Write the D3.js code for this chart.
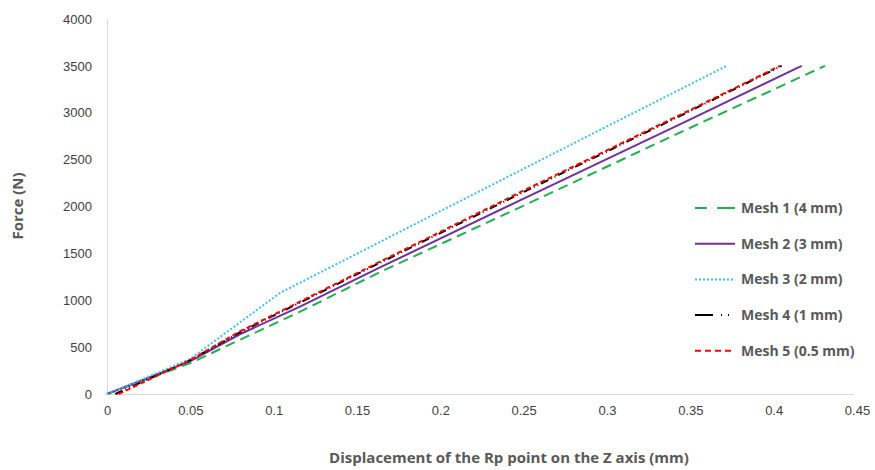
<!DOCTYPE html>
<html>
<head>
<meta charset="utf-8">
<script src="https://cdn.jsdelivr.net/npm/d3@7"></script>
<style>
  body { margin: 0; background: #fff; }
  .tick text { font-family: "Liberation Sans", Arial, sans-serif; font-size: 13px; fill: #404040; }
  .title { font-family: "Open Sans", sans-serif; font-weight: bold; font-size: 15px; fill: #595959; }
  .legend text { font-family: "Open Sans", sans-serif; font-weight: bold; font-size: 14px; fill: #595959; }
</style>
</head>
<body>
<div id="chart"></div>
<script>
// displacement (mm) / force (N)
const mesh1X = [0, 0.02, 0.05, 0.08, 0.1158, 0.1638, 0.25, 0.35, 0.4308];
const mesh1F = [0, 132, 330, 580, 878, 1300, 2010, 2840, 3500];
const mesh2X = [0, 0.02, 0.05, 0.08, 0.1158, 0.1638, 0.25, 0.35, 0.4168];
const mesh2F = [0, 140, 350, 640, 931, 1350, 2085, 2930, 3500];
const mesh3X = [0, 0.02, 0.05, 0.104, 0.2, 0.3, 0.3718];
const mesh3F = [0, 148, 375, 1080, 1950, 2855, 3500];
const mesh4X = [0.005, 0.02, 0.05, 0.08, 0.1158, 0.1638, 0.25, 0.35, 0.4048];
const mesh4F = [0, 120, 360, 660, 975, 1400, 2155, 3020, 3500];
const mesh5X = [0.007, 0.02, 0.05, 0.08, 0.1158, 0.1638, 0.25, 0.35, 0.4038];
const mesh5F = [0, 110, 362, 670, 985, 1411, 2170, 3030, 3500];

const seriesNames = ["Mesh 1 (4 mm)", "Mesh 2 (3 mm)", "Mesh 3 (2 mm)", "Mesh 4 (1 mm)", "Mesh 5 (0.5 mm)"];
const xTicks = [0, 0.05, 0.1, 0.15, 0.2, 0.25, 0.3, 0.35, 0.4, 0.45];
const yTicks = [0, 500, 1000, 1500, 2000, 2500, 3000, 3500, 4000];

const styles = [
  { color: "#21b04f", dash: "10,6" },
  { color: "#7030a0", dash: null },
  { color: "#3fc0f0", dash: "2,2" },
  { color: "#000000", dash: "8,3,1,3,1,3" },
  { color: "#ff0000", dash: "5,3" }
];

const series = [
  [mesh1X, mesh1F], [mesh2X, mesh2F], [mesh3X, mesh3F], [mesh4X, mesh4F], [mesh5X, mesh5F]
].map(([xs, fs], i) => ({ name: seriesNames[i], values: xs.map((x, j) => ({ x: x, y: fs[j] })) }));

const margin = { top: 19, right: 18, bottom: 76, left: 107 };
const totalWidth = 875, totalHeight = 470;
const width = totalWidth - margin.left - margin.right;
const height = totalHeight - margin.top - margin.bottom;

const svg = d3.select("#chart").append("svg")
    .attr("width", totalWidth)
    .attr("height", totalHeight);

const g = svg.append("g")
    .attr("transform", "translate(" + margin.left + "," + margin.top + ")");

const x = d3.scaleLinear().domain([0, 0.45]).range([0, 750]);
const y = d3.scaleLinear().domain([0, 4000]).range([height, 0]);

// axes
const xAxis = g.append("g")
    .attr("transform", "translate(0," + height + ")")
    .call(d3.axisBottom(x).tickValues(xTicks).tickSize(0).tickPadding(12).tickFormat(d => String(d)));
xAxis.select(".domain").attr("stroke", "#d9d9d9").attr("d", "M0,0.5H" + (width - 3));

const yAxis = g.append("g")
    .call(d3.axisLeft(y).tickValues(yTicks).tickSize(0).tickPadding(15).tickFormat(d => String(d)));
yAxis.select(".domain").attr("stroke", "#d9d9d9").attr("d", "M0.5," + height + "V0");

// lines
const line = d3.line().x(d => x(d.x)).y(d => y(d.y));

series.forEach((s, i) => {
  g.append("path")
      .datum(s.values)
      .attr("fill", "none")
      .attr("stroke", styles[i].color)
      .attr("stroke-width", 2)
      .attr("stroke-dasharray", styles[i].dash)
      .attr("d", line);
});

// legend
const legend = svg.append("g").attr("class", "legend");
series.forEach((s, i) => {
  const ly = 208 + i * 35.7;
  legend.append("line")
      .attr("x1", 695).attr("x2", 735)
      .attr("y1", ly).attr("y2", ly)
      .attr("stroke", styles[i].color)
      .attr("stroke-width", 2)
      .attr("stroke-dasharray", i === 3 ? "18,8,1,6,1,6" : i === 0 ? "12,10,18" : i === 4 ? "6,4" : styles[i].dash);
  legend.append("text")
      .attr("x", 741).attr("y", ly)
      .attr("dy", "0.35em")
      .text(s.name);
});

// axis titles
svg.append("text")
    .attr("class", "title")
    .attr("x", 509).attr("y", 463)
    .attr("text-anchor", "middle")
    .text("Displacement of the Rp point on the Z axis (mm)");

svg.append("text")
    .attr("class", "title")
    .attr("transform", "translate(23,206) rotate(-90)")
    .attr("text-anchor", "middle")
    .text("Force (N)");
</script>
</body>
</html>
